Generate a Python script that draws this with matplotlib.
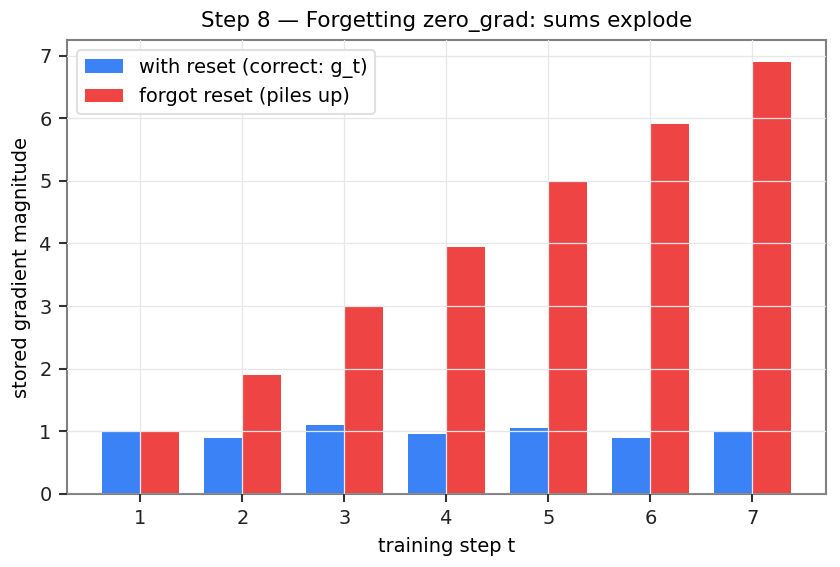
import matplotlib
matplotlib.use("Agg")
import matplotlib.pyplot as plt
import numpy as np

steps = [1, 2, 3, 4, 5, 6, 7]
with_reset = [1.0, 0.9, 1.1, 0.95, 1.05, 0.9, 1.0]
forgot_reset = [1.0, 1.9, 3.0, 3.95, 5.0, 5.9, 6.9]

fs = 9.3
fig, ax = plt.subplots(figsize=(5.6, 3.78), dpi=150)
x = np.array(steps)
w = 0.38
ax.bar(x - w/2, with_reset, w, color="#3b82f6", label="with reset (correct: g_t)", zorder=1)
ax.bar(x + w/2, forgot_reset, w, color="#ef4444", label="forgot reset (piles up)", zorder=1)

ax.set_axisbelow(False)
ax.grid(True, color="#e5e7eb", linewidth=0.6, zorder=2)
ax.set_xticks(steps)
ax.set_xlabel("training step t", fontsize=fs)
ax.set_ylabel("stored gradient magnitude", fontsize=fs)
ax.set_title("Step 8 — Forgetting zero_grad: sums explode", fontsize=10.3, pad=6.5)
for s in ax.spines.values():
    s.set_color("#808080")
    s.set_linewidth(1.0)
ax.tick_params(colors="#222222", labelsize=fs, length=4, width=1.0)
ax.tick_params(axis="both", color="#333333")
ax.legend(loc="upper left", fontsize=fs, framealpha=0.9, edgecolor="#dddddd")
fig.subplots_adjust(left=0.08, right=0.983, top=0.929, bottom=0.129)
fig.savefig("out.png", dpi=150)
